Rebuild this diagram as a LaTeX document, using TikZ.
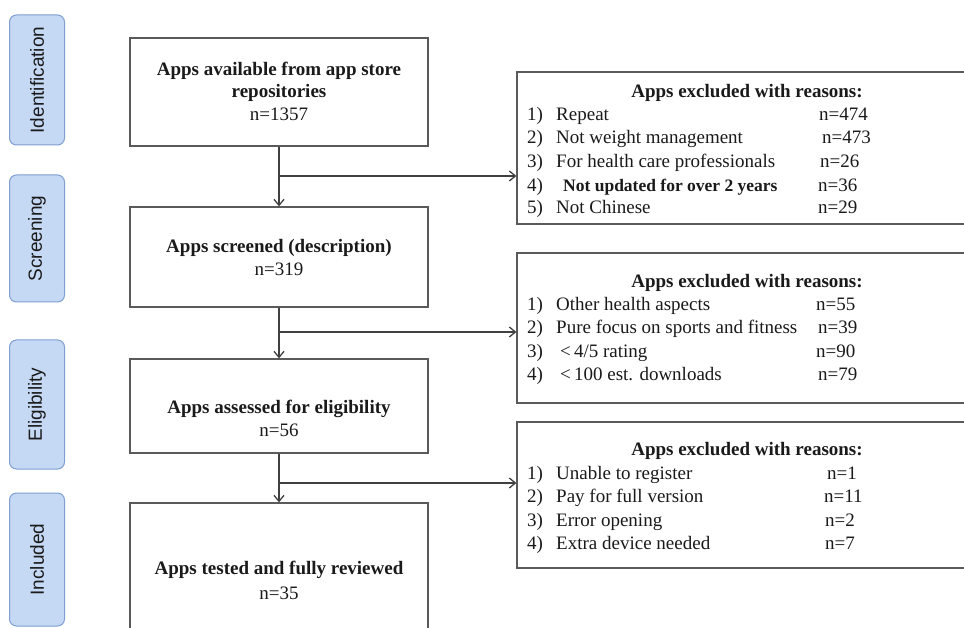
\documentclass[tikz,border=0pt]{standalone}
\usepackage{fontspec}
\setmainfont{Liberation Serif}
\newfontfamily\labfont{Liberation Sans}
\usetikzlibrary{arrows.meta}
\definecolor{sidefill}{HTML}{C6D9F4}
\definecolor{sideedge}{HTML}{7F9FD3}
\definecolor{boxedge}{HTML}{5A5A5A}
\definecolor{txt}{HTML}{1A1A1A}
\tikzset{
  mainbox/.style={draw=boxedge, line width=1.3pt, fill=white, inner sep=0pt, minimum width=298pt},
  exbox/.style={draw=boxedge, line width=1.3pt, fill=white, inner sep=0pt, minimum width=453pt},
  sidebox/.style={draw=sideedge, fill=sidefill, line width=1pt, rounded corners=7pt, minimum width=55pt, inner sep=0pt},
  sidetext/.style={rotate=90, font=\labfont\fontsize{19}{22}\selectfont, text=txt, inner sep=0pt},
  ttl/.style={font=\bfseries\fontsize{19}{23}\selectfont, text=txt, inner sep=0pt, anchor=base},
  num/.style={font=\fontsize{19}{23}\selectfont, text=txt, inner sep=0pt, anchor=base},
  item/.style={font=\fontsize{19}{23}\selectfont, text=txt, inner sep=0pt, anchor=base west},
  flow/.style={draw=black!75, line width=1.3pt, -{Straight Barb[length=6pt,width=10pt,line width=1.3pt]}},
  seg/.style={draw=black!75, line width=1.3pt}
}
\begin{document}
\begin{tikzpicture}[x=1pt,y=-1pt]
\useasboundingbox (0,0) rectangle (964,628);
\clip (0,0) rectangle (964,628);
\fill[white] (0,0) rectangle (964,628);

% side labels
\node[sidebox, minimum height=130pt] (sid) at (37,80) {};
\node[sidetext] (sidt) at (sid.center) {Identification};
\node[sidebox, minimum height=127pt] (sscr) at (37,238.5) {};
\node[sidetext] (sscrt) at (sscr.center) {Screening};
\node[sidebox, minimum height=129pt] (sel) at (37,404.5) {};
\node[sidetext] (selt) at (sel.center) {Eligibility};
\node[sidebox, minimum height=133pt] (sinc) at (37,559.5) {};
\node[sidetext] (sinct) at (sinc.center) {Included};

% main boxes
\node[mainbox, minimum height=108pt] (b1) at (279,92) {};
\node[mainbox, minimum height=100pt] (b2) at (279,257) {};
\node[mainbox, minimum height=94pt] (b3) at (279,406) {};
\node[mainbox, minimum height=137pt] (b4) at (279,571.5) {};

\node[ttl] (b1a) at (279,76) {Apps available from app store};
\node[ttl] (b1b) at (279,98) {repositories};
\node[num] (b1c) at (279,121) {n=1357};
\node[ttl] (b2a) at (279,253) {Apps screened (description)};
\node[num] (b2b) at (279,276) {n=319};
\node[ttl] (b3a) at (279,413) {Apps assessed for eligibility};
\node[num] (b3b) at (279,436) {n=56};
\node[ttl] (b4a) at (279,574) {Apps tested and fully reviewed};
\node[num] (b4b) at (279,599) {n=35};

% exclusion boxes
\node[exbox, minimum height=152pt] (r1) at (743.5,148) {};
\node[exbox, minimum height=150pt] (r2) at (743.5,328) {};
\node[exbox, minimum height=146pt] (r3) at (743.5,495) {};

\node[ttl] (r1t) at (747,98) {Apps excluded with reasons:};
\node[item] (r1n1) at (527,121) {1)};
\node[item] (r1i1) at (556,121) {Repeat};
\node[item] (r1v1) at (819,121) {n=474};
\node[item] (r1n2) at (527,144) {2)};
\node[item] (r1i2) at (556,144) {Not weight management};
\node[item] (r1v2) at (822,144) {n=473};
\node[item] (r1n3) at (527,168) {3)};
\node[item] (r1i3) at (556,168) {For health care professionals};
\node[item] (r1v3) at (820,168) {n=26};
\node[item] (r1n4) at (527,192) {4)};
\node[item, font=\bfseries\fontsize{17.5}{21}\selectfont] (r1i4) at (563,192) {Not updated for over 2 years};
\node[item] (r1v4) at (818,192) {n=36};
\node[item] (r1n5) at (527,214) {5)};
\node[item] (r1i5) at (556,214) {Not Chinese};
\node[item] (r1v5) at (818,214) {n=29};

\node[ttl] (r2t) at (747,288) {Apps excluded with reasons:};
\node[item] (r2n1) at (527,311) {1)};
\node[item] (r2i1) at (556,311) {Other health aspects};
\node[item] (r2v1) at (816,311) {n=55};
\node[item] (r2n2) at (527,334) {2)};
\node[item] (r2i2) at (556,334) {Pure focus on sports and fitness};
\node[item] (r2v2) at (818,334) {n=39};
\node[item] (r2n3) at (527,358) {3)};
\node[item] (r2i3) at (560,358) {{<}\,4/5 rating};
\node[item] (r2v3) at (816,358) {n=90};
\node[item] (r2n4) at (527,381) {4)};
\node[item] (r2i4) at (560,381) {{<}\,100 est. downloads};
\node[item] (r2v4) at (818,381) {n=79};

\node[ttl] (r3t) at (747,455) {Apps excluded with reasons:};
\node[item] (r3n1) at (527,479) {1)};
\node[item] (r3i1) at (556,479) {Unable to register};
\node[item] (r3v1) at (827,479) {n=1};
\node[item] (r3n2) at (527,502) {2)};
\node[item] (r3i2) at (556,502) {Pay for full version};
\node[item] (r3v2) at (824,502) {n=11};
\node[item] (r3n3) at (527,526) {3)};
\node[item] (r3i3) at (556,526) {Error opening};
\node[item] (r3v3) at (825,526) {n=2};
\node[item] (r3n4) at (527,549) {4)};
\node[item] (r3i4) at (556,549) {Extra device needed};
\node[item] (r3v4) at (825,549) {n=7};

% connectors
\coordinate (j1) at (279,176);
\coordinate (j2) at (279,332);
\coordinate (j3) at (279,483);
\draw[flow] (b1.south) -- (b2.north);
\draw[flow] (b2.south) -- (b3.north);
\draw[flow] (b3.south) -- (b4.north);
\draw[flow] (j1) -- (r1.west |- j1);
\draw[flow] (j2) -- (r2.west |- j2);
\draw[flow] (j3) -- (r3.west |- j3);
\end{tikzpicture}
\end{document}
